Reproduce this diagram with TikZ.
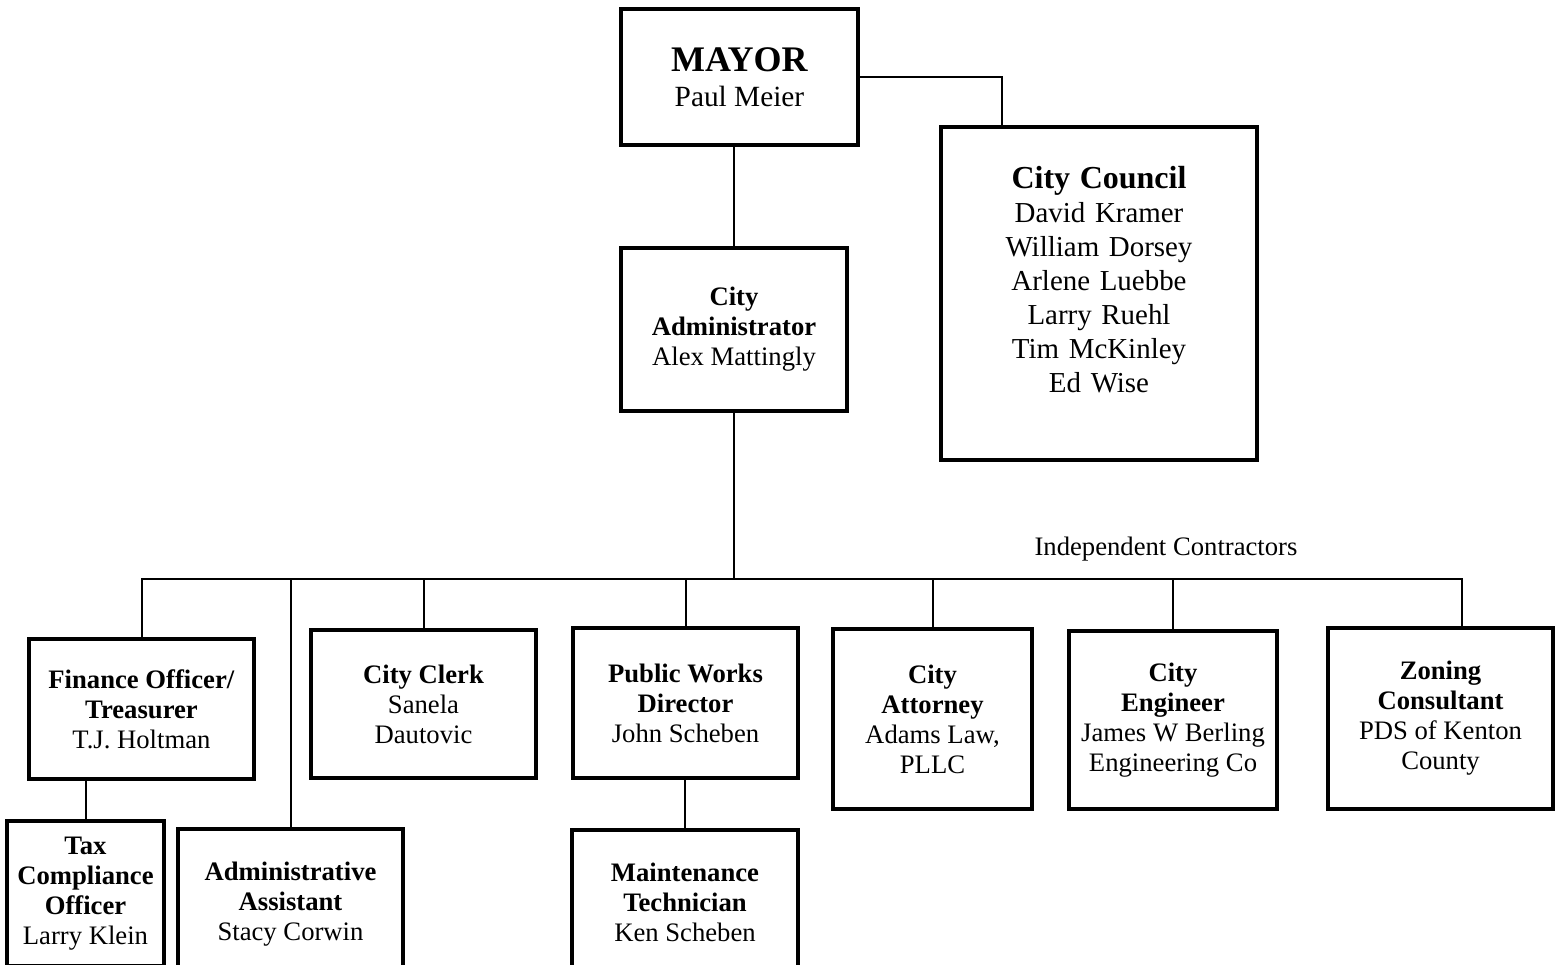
\documentclass[tikz,border=0pt]{standalone}
\usepackage{fontspec}
\setmainfont{Liberation Serif}
\usepackage{tikz}
\usetikzlibrary{calc}
\tikzset{
  orgbox/.style={rectangle, draw=black, fill=white, line width=2.4pt,
                 align=center, inner sep=0pt,
                 font=\fontsize{20}{22.5}\selectfont},
  orglink/.style={draw=black, line width=1.5pt},
  orglabel/.style={font=\fontsize{20}{22.5}\selectfont, anchor=base},
}
\begin{document}
\begin{tikzpicture}[x=0.75pt, y=-0.75pt]
    \path[use as bounding box, clip] (0,0) rectangle (1555,964);

    \node[orgbox, minimum width=177.75pt, minimum height=102pt,
          font=\fontsize{22}{26.25}\selectfont] (mayor) at (739.5,77) {
      \textbf{\fontsize{27}{26.25}\selectfont MAYOR}\\
      Paul Meier
    };

    \node[orgbox, text width=237pt, text height=45.75pt, text depth=204pt,
          font=\fontsize{21.7}{25.5}\selectfont] (council) at (1099,293.5) {
      \textbf{\fontsize{24}{25.5}\selectfont City Council}\\
      David Kramer\\
      William Dorsey\\
      Arlene Luebbe\\
      Larry Ruehl\\
      Tim McKinley\\
      Ed Wise
    };

    \node[orgbox, minimum width=169.5pt, minimum height=122.25pt] (cityadmin) at (734,329.5) {
      \textbf{City}\\
      \textbf{Administrator}\\
      Alex Mattingly
    };

    \node[orgbox, minimum width=168.75pt, minimum height=105pt] (finance) at (141.5,709) {
      \textbf{Finance Officer/}\\
      \textbf{Treasurer}\\
      T.J. Holtman
    };

    \node[orgbox, minimum width=168.75pt, minimum height=111pt] (clerk) at (423.5,704) {
      \textbf{City Clerk}\\
      Sanela\\
      Dautovic
    };

    \node[orgbox, minimum width=168.75pt, minimum height=112.5pt] (works) at (685.5,703) {
      \textbf{Public Works}\\
      \textbf{Director}\\
      John Scheben
    };

    \node[orgbox, minimum width=149.25pt, minimum height=135pt] (attorney) at (932.5,719) {
      \textbf{City}\\
      \textbf{Attorney}\\
      Adams Law,\\
      PLLC
    };

    \node[orgbox, minimum width=156pt, minimum height=133.5pt] (engineer) at (1173,720) {
      \textbf{City}\\
      \textbf{Engineer}\\
      James W Berling\\
      Engineering Co
    };

    \node[orgbox, minimum width=168.75pt, minimum height=135.75pt] (zoning) at (1440.5,718.5) {
      \textbf{Zoning}\\
      \textbf{Consultant}\\
      PDS of Kenton\\
      County
    };

    \node[orgbox, minimum width=117.75pt, minimum height=108.75pt] (tax) at (85.5,893.5) {
      \textbf{Tax}\\
      \textbf{Compliance}\\
      \textbf{Officer}\\
      Larry Klein
    };

    \node[orgbox, minimum width=168.75pt, minimum height=112.5pt] (assistant) at (290.5,904) {
      \textbf{Administrative}\\
      \textbf{Assistant}\\
      Stacy Corwin
    };

    \node[orgbox, minimum width=169.5pt, minimum height=108pt] (maint) at (685,902) {
      \textbf{Maintenance}\\
      \textbf{Technician}\\
      Ken Scheben
    };

    \node[orglabel] (contractors) at (1166,555) {Independent Contractors};

    % connectors
    \coordinate (bus) at (731,579);
    \coordinate (zoningtap) at ([xshift=16pt]zoning.north);
    \draw[orglink] (mayor.east) -| ([xshift=47.25pt]council.north west);
    \draw[orglink] (cityadmin.north) -- (cityadmin.north |- mayor.south);
    \draw[orglink] (cityadmin.south) -- (cityadmin.south |- bus);
    \draw[orglink] (finance.north) |- (zoningtap |- bus) -- (zoningtap);
    \draw[orglink] (assistant.north) -- (assistant.north |- bus);
    \draw[orglink] (clerk.north) -- (clerk.north |- bus);
    \draw[orglink] (works.north) -- (works.north |- bus);
    \draw[orglink] (attorney.north) -- (attorney.north |- bus);
    \draw[orglink] (engineer.north) -- (engineer.north |- bus);
    \draw[orglink] (tax.north) -- (tax.north |- finance.south);
    \draw[orglink] (works.south) -- (works.south -| maint.north) -- (maint.north);
\end{tikzpicture}
\end{document}
